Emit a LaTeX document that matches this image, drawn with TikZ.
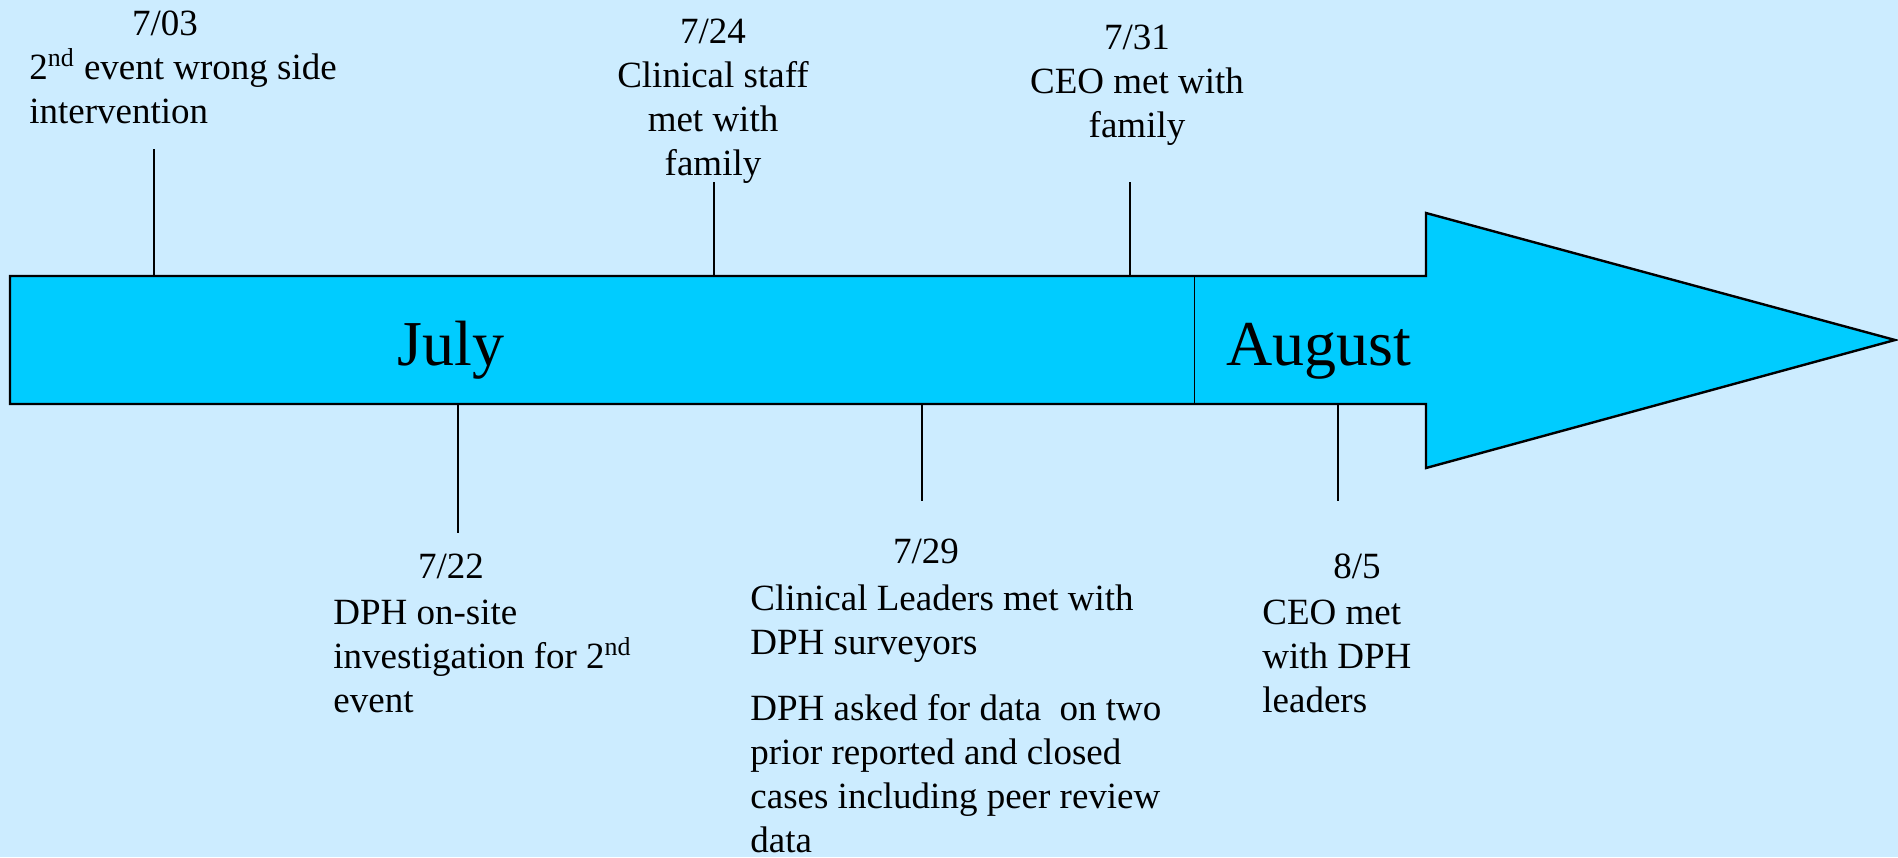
\documentclass[tikz,border=0pt]{standalone}
\usepackage{fontspec}
\setmainfont{Liberation Serif}
\usetikzlibrary{positioning}
\definecolor{bgblue}{RGB}{204,236,255}
\definecolor{arrowblue}{RGB}{0,204,255}
\tikzset{date/.style={anchor=base,inner sep=0pt,font=\fontsize{18.5}{22}\selectfont},
  note/.style={anchor=base west,align=left,inner sep=0pt,font=\fontsize{18.5}{22}\selectfont},
  cnote/.style={note,anchor=base,align=center},
  month/.style={anchor=base,inner sep=0pt,font=\fontsize{32}{38}\selectfont},
  tickln/.style={line width=1pt}}

\begin{document}
\begin{tikzpicture}[x=0.5pt,y=-0.5pt]
\fill[bgblue] (0,0) rectangle (1898,857); \useasboundingbox (0,0) rectangle (1898,857);
\draw[fill=arrowblue,line width=1.2pt] (10,276) -- (1426,276) -- (1426,213) -- (1895,340) -- (1426,468) -- (1426,404) -- (10,404) -- cycle;
\coordinate (m1) at (1194,276); \coordinate (m2) at (1194,404); \draw[line width=0.5pt] (m1)--(m2);
\node[month] (jul) at (451,365){July}; \node[month] (aug) at (1319,365){August};
% events above the bar (notes placed by their last baseline)
\coordinate (a1) at (154,276); \coordinate (a1e) at (154,149);
\coordinate (a2) at (714,276); \coordinate (a2e) at (714,182);
\coordinate (a3) at (1130,276); \coordinate (a3e) at (1130,182);
\draw[tickln] (a1)--(a1e); \draw[tickln] (a2)--(a2e); \draw[tickln] (a3)--(a3e);
\node[date] (d703) at (165,35){7/03};
\node[note] (e703) at (29,123){2\textsuperscript{nd} event wrong side\\intervention};
\node[cnote] (e724) at (713,175){7/24\\Clinical staff\\met with\\family};
\node[cnote] (e731) at (1137,137){7/31\\CEO met with\\family};
% events below the bar
\coordinate (b1) at (458,404); \coordinate (b1e) at (458,533);
\coordinate (b2) at (922,404); \coordinate (b2e) at (922,501);
\coordinate (b3) at (1338,404); \coordinate (b3e) at (1338,501);
\draw[tickln] (b1)--(b1e); \draw[tickln] (b2)--(b2e); \draw[tickln] (b3)--(b3e);
\node[date] (d722) at (451,578){7/22};
\node[note] (e722) at (333,712){DPH on-site\\investigation for 2\textsuperscript{nd}\\event};
\node[date] (d729) at (926,563){7/29};
\node[note] (e729) at (750,852){Clinical Leaders met with\\DPH surveyors\\[11pt]DPH asked for data~ on two\\prior reported and closed\\cases including peer review\\data};
\node[date] (d805) at (1357,578){8/5};
\node[note] (e805) at (1262,712){CEO met\\with DPH\\leaders};
\end{tikzpicture}
\end{document}
